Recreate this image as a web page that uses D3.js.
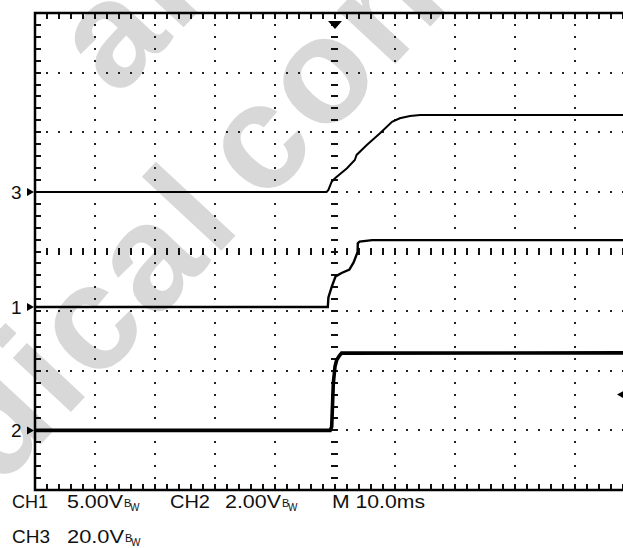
<!DOCTYPE html>
<html>
<head>
<meta charset="utf-8">
<script src="https://cdn.jsdelivr.net/npm/d3@7"></script>
<style>
	html, body { margin: 0; padding: 0; background: #fff; }
	svg { display: block; }
</style>
</head>
<body>
<div id="scope"></div>
<script>
/* time axis: 10.0 ms per division, ms relative to the trigger point */
const timeRange = [-50, 50];
const minorStepMs = 2;

/* channel settings as in the readout */
const channelIds = ["1", "2", "3"];
const voltsPerDiv = [5, 2, 20];
const groundDiv = [-0.93, -3, 1];

/* traces */
const ch1Time = [-50, -1.2, -1.1, -0.55, 0.1, 1.1, 2.4, 3.1, 3.77, 3.8, 4.1, 6.2, 50];
const ch1Volts = [0, 0, 0.8, 1.68, 2.56, 2.85, 3.14, 3.73, 4.61, 5.34, 5.48, 5.6, 5.6];

const ch2Time = [-50, -0.8, -0.55, -0.28, 0, 0.28, 0.72, 1.1, 50];
const ch2Volts = [0, 0, 0.12, 1.58, 2.14, 2.36, 2.5, 2.59, 2.6];

const ch3Time = [-50, -1.4, -1.1, -0.55, 0, 2, 3.3, 3.6, 5.3, 7.5, 9.5, 10.8, 12.5, 14.2, 50];
const ch3Volts = [0, 0, 0.64, 3.42, 4.56, 7.92, 10.7, 12.4, 15.7, 19.66, 23.5, 24.7, 25.46, 25.8, 25.8];

/* trigger: position at t = 0, level on CH2 */
const triggerTime = 0;
const triggerLevel = 1.2;

/* readout texts */
const readoutLine1 = ["CH1", "5.00V", "CH2", "2.00V", "M 10.0ms"];
const readoutLine2 = ["CH3", "20.0V"];
const bandwidthMark = ["B", "W"];

const watermarkText = ["Medical content", "al content"];

class ScopeScreen {

	constructor(options) {
		this._opt = options;
	}

	createSVG() {
		const o = this._opt;
		this.svg = d3.select(o.container)
			.append("svg")
			.attr("width", o.width)
			.attr("height", o.height)
			.style("background", "#fff");

		/* graticule area in pixels, 10 x 8 divisions (right edge is cut off by the photo) */
		this.x = d3.scaleLinear().domain(timeRange).range([35, 635]);
		this.yDiv = d3.scaleLinear().domain([-4, 4]).range([490, 13]);

		this.drawWatermark();
		this.drawGraticule();
		this.drawTraces();
		this.drawMarkers();
		this.drawReadout();
	}

	channelY(ch) {
		const i = channelIds.indexOf(ch);
		return (v) => this.yDiv(groundDiv[i] + v / voltsPerDiv[i]);
	}

	drawWatermark() {
		const g = this.svg.append("g").attr("class", "watermark");
		const rows = [
			{ text: watermarkText[0], x: -149, y: 648 },
			{ text: watermarkText[1], x: 117, y: 99 }
		];
		g.selectAll("text")
			.data(rows)
			.enter()
			.append("text")
				.attr("transform", (d) => `translate(${d.x},${d.y}) rotate(-47)`)
				.attr("font-family", "Liberation Sans, Arial, sans-serif")
				.attr("font-weight", "bold")
				.attr("font-size", "150px")
				.attr("letter-spacing", "4px")
				.attr("word-spacing", "-19px")
				.attr("fill", "#d8d8d8")
				.text((d) => d.text);
	}

	drawGraticule() {
		const x = this.x, y = this.yDiv;
		const g = this.svg.append("g").attr("class", "graticule");

		const xMinor = d3.range(timeRange[0] + minorStepMs, timeRange[1], minorStepMs);
		const yMinor = d3.range(-3.8, 3.81, 0.2).map((d) => +d.toFixed(1));
		const xMajor = d3.range(-40, 41, 10).filter((d) => d !== 0);
		const yMajor = [-3, -2, -1, 1, 2, 3];

		/* dotted grid lines */
		const dots = [];
		xMajor.forEach((t) => yMinor.forEach((v) => dots.push([x(t), y(v)])));
		yMajor.forEach((v) => xMinor.forEach((t) => dots.push([x(t), y(v)])));

		g.selectAll(".dot")
			.data(dots)
			.enter()
			.append("rect")
				.attr("class", "dot")
				.attr("x", (d) => Math.round(d[0]) - 1)
				.attr("y", (d) => Math.round(d[1]) - 1)
				.attr("width", 2)
				.attr("height", 2)
				.attr("fill", "#222");

		/* centre cross with minor ticks */
		g.selectAll(".hTick")
			.data(xMinor)
			.enter()
			.append("rect")
				.attr("class", "hTick")
				.attr("x", (d) => Math.round(x(d)) - 1)
				.attr("y", Math.round(y(0)) - 4)
				.attr("width", 2)
				.attr("height", 7)
				.attr("fill", "#111");

		g.selectAll(".vTick")
			.data(yMinor)
			.enter()
			.append("rect")
				.attr("class", "vTick")
				.attr("x", Math.round(x(0)) - 4)
				.attr("y", (d) => Math.round(y(d)) - 1)
				.attr("width", 7)
				.attr("height", 2)
				.attr("fill", "#111");

		/* ticks along the frame */
		g.selectAll(".leftTick")
			.data(yMinor)
			.enter()
			.append("rect")
				.attr("x", x(timeRange[0]))
				.attr("y", (d) => Math.round(y(d)) - 1)
				.attr("width", 6)
				.attr("height", 2)
				.attr("fill", "#111");

		[[y(4), 0], [y(-4), -6]].forEach(([edge, dy]) => {
			g.append("g").selectAll("rect")
				.data(xMinor)
				.enter()
				.append("rect")
					.attr("x", (d) => Math.round(x(d)) - 1)
					.attr("y", edge + dy)
					.attr("width", 2)
					.attr("height", 6)
					.attr("fill", "#111");
		});

		g.append("path")
			.attr("d", `M${x(timeRange[1])},${y(4)}H${x(timeRange[0])}V${y(-4)}H${x(timeRange[1])}`)
			.attr("fill", "none")
			.attr("stroke", "#000")
			.attr("stroke-width", 2.5);
	}

	drawTraces() {
		const traces = [
			{ ch: "3", time: ch3Time, volts: ch3Volts, width: 2 },
			{ ch: "1", time: ch1Time, volts: ch1Volts, width: 2.4 },
			{ ch: "2", time: ch2Time, volts: ch2Volts, width: 3.6 }
		];
		const g = this.svg.append("g").attr("class", "traces");

		traces.forEach((tr) => {
			const yc = this.channelY(tr.ch);
			const line = d3.line()
				.x((d) => this.x(d[0]))
				.y((d) => yc(d[1]));
			g.append("path")
				.datum(d3.zip(tr.time, tr.volts))
				.attr("d", line)
				.attr("fill", "none")
				.attr("stroke", "#000")
				.attr("stroke-width", tr.width)
				.attr("stroke-linejoin", "miter");
		});
	}

	drawMarkers() {
		const g = this.svg.append("g").attr("class", "markers");

		/* ground markers at the left edge */
		channelIds.forEach((ch) => {
			const yg = this.channelY(ch)(0);
			g.append("text")
				.attr("x", 11)
				.attr("y", yg + 7)
				.attr("font-family", "Liberation Sans, Arial, sans-serif")
				.attr("font-size", "19px")
				.attr("fill", "#111")
				.text(ch);
			g.append("path")
				.attr("d", `M27,${yg - 4}L34,${yg}L27,${yg + 4}Z`)
				.attr("fill", "#000");
		});

		/* trigger position on top */
		const tx = this.x(triggerTime);
		g.append("path")
			.attr("d", `M${tx - 7},21H${tx + 7}L${tx},29Z`)
			.attr("fill", "#000");

		/* trigger level on the right */
		const ty = this.channelY("2")(triggerLevel);
		g.append("path")
			.attr("d", `M617,${ty}L624,${ty - 4}V${ty + 4}Z`)
			.attr("fill", "#000");
	}

	drawReadout() {
		const g = this.svg.append("g").attr("class", "readout")
			.attr("font-family", "Liberation Sans, Arial, sans-serif")
			.attr("fill", "#111");

		const line1 = [[12, 36], [67, 56], [170, 40], [225, 56], [332, 93]];
		const line2 = [[12, 38], [67, 57]];

		const put = (texts, pos, base) => {
			texts.forEach((t, i) => {
				g.append("text")
					.attr("x", pos[i][0])
					.attr("y", base)
					.attr("font-size", "18px")
					.attr("textLength", pos[i][1])
					.attr("lengthAdjust", "spacingAndGlyphs")
					.text(t);
				/* bandwidth limit mark after each V/div value */
				if (t.endsWith("V")) {
					const bx = pos[i][0] + pos[i][1];
					g.append("text")
						.attr("x", bx + 1)
						.attr("y", base - 1)
						.attr("font-size", "11px")
						.text(bandwidthMark[0]);
					g.append("text")
						.attr("x", bx + 7)
						.attr("y", base + 3)
						.attr("font-size", "10px")
						.text(bandwidthMark[1]);
				}
			});
		};
		put(readoutLine1, line1, 508);
		put(readoutLine2, line2, 543);
	}
}

const scope = new ScopeScreen({ container: "#scope", width: 623, height: 548 });
scope.createSVG();
</script>
</body>
</html>
